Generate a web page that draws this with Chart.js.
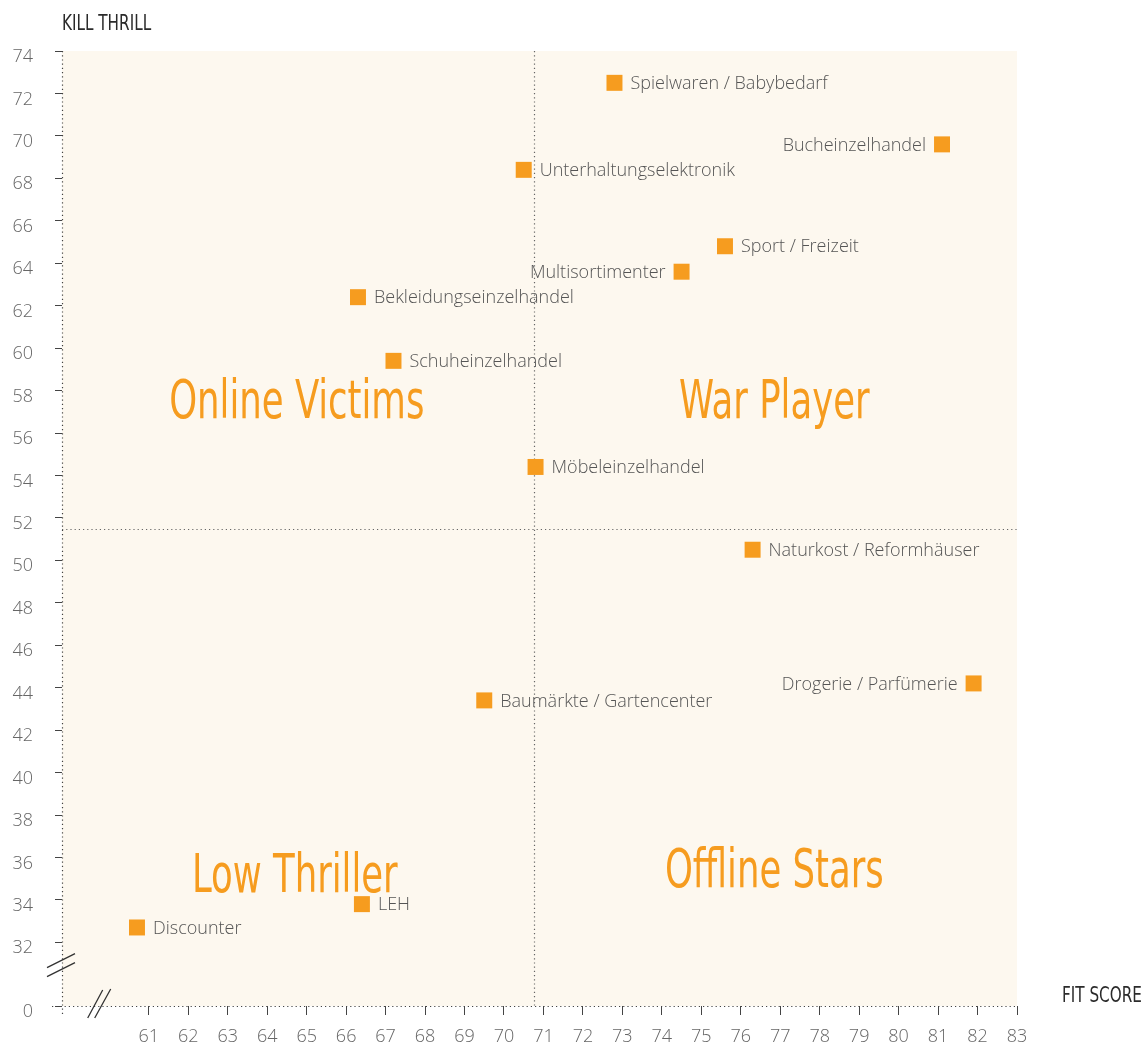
<!DOCTYPE html>
<html>
<head>
<meta charset="utf-8">
<script src="https://cdn.jsdelivr.net/npm/chart.js@4/dist/chart.umd.min.js"></script>
<style>
  html, body { margin: 0; padding: 0; background: #fff; }
  #wrap { width: 1145px; height: 1048px; position: relative; }
</style>
</head>
<body>
<div id="wrap"><canvas id="chart"></canvas></div>
<script>
// Branchen (categories) and their scores
const categories = [
  'Spielwaren / Babybedarf', 'Bucheinzelhandel', 'Unterhaltungselektronik',
  'Sport / Freizeit', 'Multisortimenter', 'Bekleidungseinzelhandel',
  'Schuheinzelhandel', 'Möbeleinzelhandel', 'Naturkost / Reformhäuser',
  'Drogerie / Parfümerie', 'Baumärkte / Gartencenter', 'LEH', 'Discounter'
];
const fitScore = [72.8, 81.1, 70.5, 75.6, 74.5, 66.3, 67.2, 70.8, 76.3, 81.9, 69.5, 66.4, 60.7];
const killThrill = [72.5, 69.6, 68.4, 64.8, 63.6, 62.4, 59.4, 54.4, 50.5, 44.2, 43.4, 33.8, 32.7];

// quadrant names and where they sit (data coords)
const quadrantNames = ['Online Victims', 'War Player', 'Low Thriller', 'Offline Stars'];
const quadrantX = [64.75, 76.85, 64.7, 76.85];
const quadrantY = [57.35, 57.35, 35.05, 35.25];

// quadrant split lines
const splitX = 70.75;
const splitY = 51.5;

// tick labels
const xTicks = [61, 62, 63, 64, 65, 66, 67, 68, 69, 70, 71, 72, 73, 74, 75, 76, 77, 78, 79, 80, 81, 82, 83];
const yTicks = [74, 72, 70, 68, 66, 64, 62, 60, 58, 56, 54, 52, 50, 48, 46, 44, 42, 40, 38, 36, 34, 32];
const yZero = 29; // axis break: this position is labelled 0

const leftLabels = ['Bucheinzelhandel', 'Multisortimenter', 'Drogerie / Parfümerie'];

const orange = '#F69C1F';
const textFamily = '"Open Sans", "Liberation Sans", sans-serif';
const condensed = '"Liberation Sans Narrow", "DejaVu Sans Condensed", sans-serif';

const canvas = document.getElementById('chart');
canvas.width = 1145;
canvas.height = 1048;

// draw text squeezed horizontally (stand-in for a condensed face)
function squeezed(ctx, text, x, y, sx) {
  ctx.save();
  ctx.translate(x, y);
  ctx.scale(sx, 1);
  ctx.fillText(text, 0, 0);
  ctx.restore();
}

const decorPlugin = {
  id: 'decor',
  beforeDraw(chart) {
    const { ctx, chartArea: a, scales: { x, y } } = chart;
    ctx.save();
    ctx.fillStyle = '#FDF8EF';
    ctx.fillRect(a.left, a.top, a.right - a.left, a.bottom - a.top);

    // dotted quadrant lines
    ctx.strokeStyle = '#666';
    ctx.lineWidth = 1.2;
    ctx.setLineDash([1.2, 3]);
    const px = Math.round(x.getPixelForValue(splitX)) + 0.5;
    const py = Math.round(y.getPixelForValue(splitY)) + 0.5;
    ctx.beginPath();
    ctx.moveTo(px, a.top); ctx.lineTo(px, a.bottom);
    ctx.moveTo(a.left, py); ctx.lineTo(a.right, py);
    ctx.stroke();

    // dotted axis lines
    ctx.strokeStyle = '#444';
    const lx = Math.round(a.left) + 0.5;
    const by = Math.round(a.bottom) + 0.5;
    ctx.beginPath();
    ctx.moveTo(lx, a.top); ctx.lineTo(lx, a.bottom + 10);
    ctx.moveTo(a.left - 10, by); ctx.lineTo(a.right, by);
    ctx.stroke();
    ctx.restore();
  },
  afterDatasetsDraw(chart) {
    const { ctx, scales: { x, y } } = chart;
    ctx.save();
    // quadrant titles
    ctx.fillStyle = orange;
    ctx.textAlign = 'center';
    ctx.textBaseline = 'middle';
    ctx.font = '300 54px ' + condensed;
    quadrantNames.forEach((name, i) => {
      squeezed(ctx, name, x.getPixelForValue(quadrantX[i]), y.getPixelForValue(quadrantY[i]), 0.73);
    });

    // point labels
    ctx.fillStyle = '#555';
    ctx.font = '300 18px ' + textFamily;
    categories.forEach((name, i) => {
      const cx = x.getPixelForValue(fitScore[i]);
      const cy = y.getPixelForValue(killThrill[i]);
      if (leftLabels.includes(name)) {
        ctx.textAlign = 'right';
        ctx.fillText(name, cx - 16, cy + 1);
      } else {
        ctx.textAlign = 'left';
        ctx.fillText(name, cx + 16, cy + 1);
      }
    });

    // axis titles
    ctx.fillStyle = '#2b2b2b';
    ctx.font = '22px ' + condensed;
    ctx.textAlign = 'left';
    squeezed(ctx, 'KILL THRILL', 62, 24, 0.77);
    squeezed(ctx, 'FIT SCORE', 1062, 996, 0.77);

    // axis break marks
    ctx.strokeStyle = '#333';
    ctx.lineWidth = 1.3;
    const ax = chart.chartArea.left;
    const by = y.getPixelForValue(30.9);
    ctx.beginPath();
    ctx.moveTo(ax - 15, by + 2); ctx.lineTo(ax + 13, by - 12);
    ctx.moveTo(ax - 15, by + 11); ctx.lineTo(ax + 13, by - 3);
    const bx = x.getPixelForValue(59.73);
    const ay = chart.chartArea.bottom;
    ctx.moveTo(bx - 11, ay + 12); ctx.lineTo(bx + 4, ay - 16);
    ctx.moveTo(bx - 4, ay + 12); ctx.lineTo(bx + 12, ay - 17);
    ctx.stroke();
    ctx.restore();
  }
};

new Chart(canvas, {
  type: 'scatter',
  data: {
    datasets: [{
      data: fitScore.map((v, i) => ({ x: v, y: killThrill[i] })),
      pointStyle: 'rect',
      pointRadius: 11.3,
      pointHoverRadius: 11.3,
      pointBackgroundColor: orange,
      pointBorderColor: orange,
      pointBorderWidth: 0
    }]
  },
  options: {
    responsive: false,
    animation: false,
    events: [],
    layout: { padding: { top: 51, right: 128, bottom: 0, left: 0 } },
    plugins: { legend: { display: false }, tooltip: { enabled: false } },
    scales: {
      x: {
        type: 'linear',
        min: 58.8,
        max: 83,
        afterBuildTicks: s => { s.ticks = xTicks.map(v => ({ value: v })); },
        afterFit: s => { s.height = 42; },
        border: { display: false },
        grid: { drawOnChartArea: false, drawTicks: true, tickLength: 9, color: '#444', lineWidth: 1 },
        ticks: {
          padding: 11,
          color: '#666',
          font: { family: textFamily, size: 18, weight: 300 },
          callback: v => String(v)
        }
      },
      y: {
        type: 'linear',
        min: yZero,
        max: 74,
        afterBuildTicks: s => { s.ticks = yTicks.concat([yZero]).map(v => ({ value: v })); },
        afterFit: s => { s.width = 62; },
        border: { display: false },
        grid: { drawOnChartArea: false, drawTicks: true, tickLength: 7, color: '#444', lineWidth: 1 },
        ticks: {
          padding: 22,
          labelOffset: 6,
          color: '#666',
          font: { family: textFamily, size: 18, weight: 300 },
          callback: v => (v === yZero ? '0' : String(v))
        }
      }
    }
  },
  plugins: [decorPlugin]
});
</script>
</body>
</html>
